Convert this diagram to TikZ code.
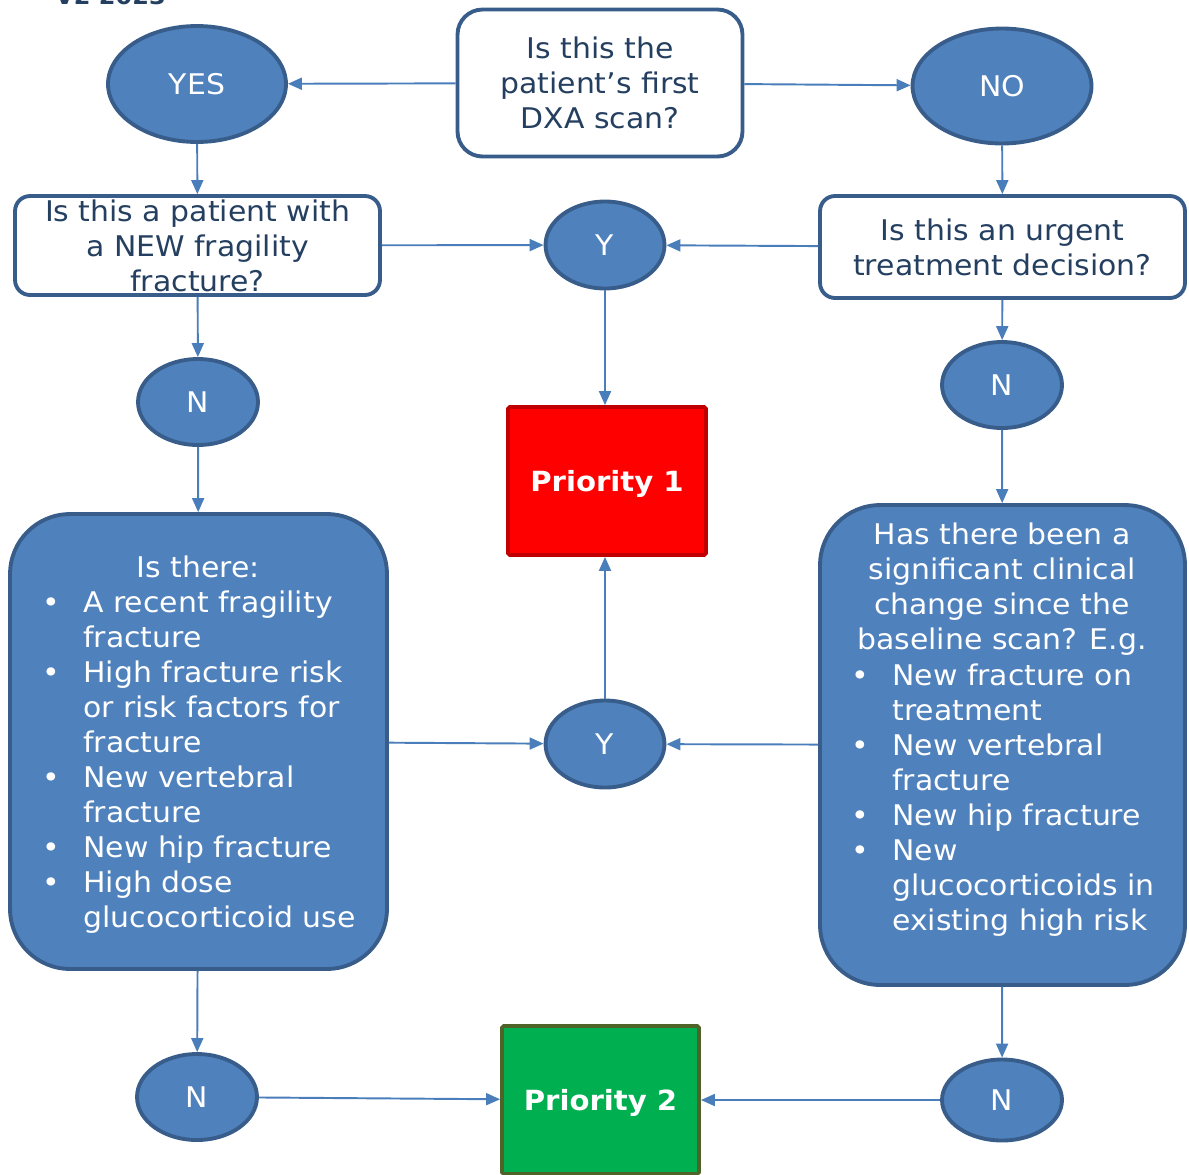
\documentclass[tikz,border=0pt]{standalone}
\usepackage{fontspec}
\setmainfont{DejaVu Sans}[FakeStretch=1.05]
\usepackage{xcolor}
\usetikzlibrary{arrows.meta,shapes.geometric}

\definecolor{boxblue}{HTML}{4F81BD}
\definecolor{edgeblue}{HTML}{385D8A}
\definecolor{arrowblue}{HTML}{4A7EBB}
\definecolor{navytext}{HTML}{243F60}
\definecolor{pred}{HTML}{FF0000}
\definecolor{predge}{HTML}{C00000}
\definecolor{pgreen}{HTML}{00B050}
\definecolor{pgedge}{HTML}{4F6228}

\newcommand{\bpt}[1]{\makebox[0.82cm][l]{\textbullet}#1}
\newcommand{\cnt}[1]{\hspace*{0.82cm}#1}

\begin{document}
\begin{tikzpicture}[x=0.02cm, y=-0.02cm,
    font=\fontsize{16.2pt}{19.9pt}\selectfont,
    every node/.style={inner sep=0pt},
    question/.style={draw=edgeblue, line width=2.2pt, fill=white, text=navytext, align=center},
    answer/.style={ellipse, draw=edgeblue, line width=2.2pt, fill=boxblue, text=white},
    bigbox/.style={draw=edgeblue, line width=2.2pt, fill=boxblue, rounded corners=1.2cm},
    priority/.style={line width=2.2pt, rounded corners=1pt, text=white, text depth=0pt,
      font=\fontsize{15.8pt}{19pt}\selectfont\bfseries},
    flow/.style={draw=arrowblue, line width=1.1pt, -{Triangle[length=0.28cm, width=0.24cm]}}]
  \useasboundingbox (0,0) rectangle (1189,1174);

  \node[anchor=base west, text=navytext, font=\fontsize{13pt}{15pt}\selectfont\bfseries] (ver) at (55,4) {V2 2023};

  % questions
  \node[question, rounded corners=0.5cm, minimum width=5.7cm, minimum height=2.94cm] (first) at (600,83)
    {Is this the\\patient’s first\\DXA scan?};
  \node[question, rounded corners=0.3cm, minimum width=7.3cm, minimum height=1.98cm] (newfx) at (197.5,245.5)
    {Is this a patient with\\a NEW fragility\\fracture?};
  \node[question, rounded corners=0.3cm, minimum width=7.3cm, minimum height=2.04cm] (urgent) at (1002.5,247)
    {Is this an urgent\\treatment decision?};

  % answers
  \node[answer, minimum width=3.56cm, minimum height=2.32cm] (yes) at (197,84) {YES};
  \node[answer, minimum width=3.58cm, minimum height=2.3cm] (no) at (1002,86) {NO};
  \node[answer, minimum width=2.38cm, minimum height=1.74cm] (yA) at (605,245) {Y};
  \node[answer, minimum width=2.4cm, minimum height=1.72cm] (nA) at (198,402) {N};
  \node[answer, minimum width=2.4cm, minimum height=1.72cm] (nB) at (1002,385) {N};
  \node[answer, minimum width=2.38cm, minimum height=1.74cm] (yB) at (605,744) {Y};
  \node[answer, minimum width=2.4cm, minimum height=1.72cm] (nC) at (197,1097) {N};
  \node[answer, minimum width=2.4cm, minimum height=1.62cm] (nD) at (1002,1100) {N};

  % outcomes
  \node[priority, draw=predge, fill=pred, minimum width=3.96cm, minimum height=2.96cm] (pone) at (607,481) {Priority 1};
  \node[priority, draw=pgedge, fill=pgreen, minimum width=3.94cm, minimum height=2.96cm] (ptwo) at (600.5,1100) {Priority 2};

  % criteria boxes
  \node[bigbox, minimum width=7.54cm, minimum height=9.1cm] (risk) at (198.5,741.5) {};
  \node[anchor=base, text=white] (riskhead) at (198,577) {Is there:};
  \node[anchor=north west, align=left, text=white] (risklist) at (42,591)
    {\bpt{A recent fragility}\\\cnt{fracture}\\\bpt{High fracture risk}\\\cnt{or risk factors for}\\\cnt{fracture}\\
     \bpt{New vertebral}\\\cnt{fracture}\\\bpt{New hip fracture}\\\bpt{High dose}\\\cnt{glucocorticoid use}};

  \node[bigbox, minimum width=7.3cm, minimum height=9.6cm] (change) at (1002.5,745) {};
  \node[anchor=north, align=center, text=white] (changehead) at (1002,523)
    {Has there been a\\significant clinical\\change since the\\baseline scan? E.g.};
  \node[anchor=north west, align=left, text=white] (changelist) at (851,664)
    {\bpt{New fracture on}\\\cnt{treatment}\\\bpt{New vertebral}\\\cnt{fracture}\\\bpt{New hip fracture}\\
     \bpt{New}\\\cnt{glucocorticoids in}\\\cnt{existing high risk}};

  % connectors
  \draw[flow] (first) -- (yes);
  \draw[flow] (first) -- (no);
  \draw[flow] (yes) -- (newfx);
  \draw[flow] (no) -- (urgent);
  \draw[flow] (newfx) -- (yA);
  \draw[flow] (urgent) -- (yA);
  \draw[flow] (yA.south) -- (yA.south |- pone.north);
  \draw[flow] (newfx) -- (nA);
  \draw[flow] (urgent) -- (nB);
  \draw[flow] (nA) -- (risk);
  \draw[flow] (nB) -- (change);
  \draw[flow] (yB.north) -- (yB.north |- pone.south);
  \draw[flow] (risk) -- (yB);
  \draw[flow] (change) -- (yB);
  \draw[flow] (risk) -- (nC);
  \draw[flow] (change) -- (nD);
  \draw[flow] (nC) -- (ptwo);
  \draw[flow] (nD) -- (ptwo);
\end{tikzpicture}
\end{document}
